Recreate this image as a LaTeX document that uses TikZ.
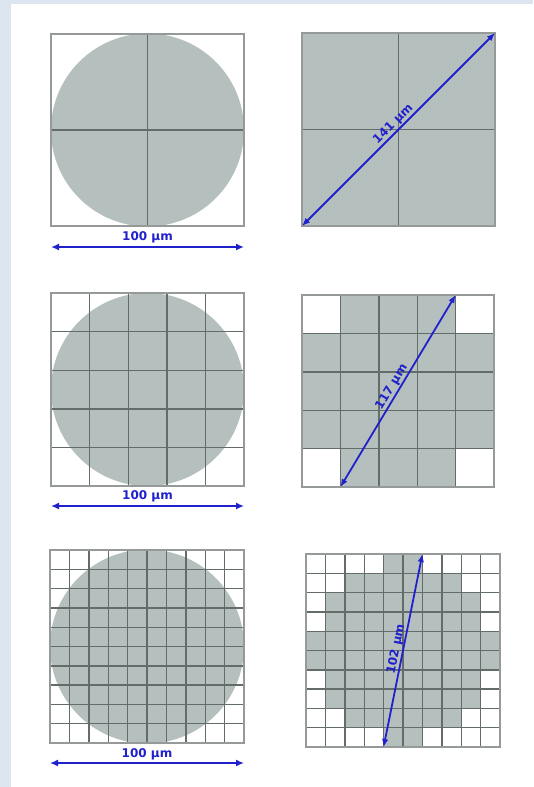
\documentclass[tikz,border=0pt]{standalone}
\usepackage{fontspec}
\setmainfont{DejaVu Sans}[BoldFont={DejaVu Sans Bold}]
\usetikzlibrary{arrows.meta}
\definecolor{bgblue}{HTML}{DDE6F0}
\definecolor{cellgray}{HTML}{B5C0BE}
\definecolor{gridline}{HTML}{646C69}
\definecolor{borderline}{HTML}{959A99}
\definecolor{arrowblue}{HTML}{2020CC}
\tikzset{
  gridln/.style={draw=gridline, line width=1.4pt},
  outer/.style={draw=borderline, line width=1.6pt},
  dimarrow/.style={draw=arrowblue, line width=2.1pt, {Latex[length=8pt,width=7pt]}-{Latex[length=8pt,width=7pt]}},
  diagarrow/.style={draw=arrowblue, line width=1.8pt, {Latex[length=8pt,width=6.5pt]}-{Latex[length=8pt,width=6.5pt]}},
  dimlabel/.style={text=arrowblue, inner sep=0pt, anchor=base, font=\bfseries\fontsize{12}{13}\selectfont}
}
\begin{document}
\begin{tikzpicture}[x=1pt,y=-1pt]
\useasboundingbox (0,0) rectangle (533,787);
\fill[bgblue] (0,0) rectangle (533,787);
\fill[white] (11,4) rectangle (533,787);

% ---------- Panel 1 ----------
\fill[cellgray] (147.5,130) circle[radius=96.5pt];
\draw[gridln] (147.5,34) -- (147.5,226);
\draw[gridln] (51,130) -- (244,130);
\draw[outer] (51,34) rectangle (244,226);
\coordinate (a1l) at (51,247);
\coordinate (a1r) at (244,247);
\draw[dimarrow] (a1l) -- (a1r);
\node[dimlabel] (t1) at (147.5,240) {100 µm};

% ---------- Panel 2 ----------
\fill[cellgray] (302,33) rectangle (495,226);
\draw[gridln] (398.5,33) -- (398.5,226);
\draw[gridln] (302,129.5) -- (495,129.5);
\draw[outer] (302,33) rectangle (495,226);
\coordinate (a2s) at (302,226);
\coordinate (a2e) at (495,33);
\draw[diagarrow] (a2s) -- (a2e);
\node[dimlabel, rotate=45] (t2) at (395.5,126.5) {141 µm};

% ---------- Panel 3 ----------
\fill[cellgray] (147.5,389.5) circle[radius=96.5pt];
\foreach \i in {1,...,4} {
  \draw[gridln] (51+\i*38.6,293) -- (51+\i*38.6,486);
  \draw[gridln] (51,293+\i*38.6) -- (244,293+\i*38.6);
}
\draw[outer] (51,293) rectangle (244,486);
\coordinate (a3l) at (51,506);
\coordinate (a3r) at (244,506);
\draw[dimarrow] (a3l) -- (a3r);
\node[dimlabel] (t3) at (147.5,499.5) {100 µm};

% ---------- Panel 4 ----------
\fill[cellgray] (302,295) rectangle (494,487);
\fill[white] (302,295) rectangle (340.4,333.4);
\fill[white] (455.6,295) rectangle (494,333.4);
\fill[white] (302,448.6) rectangle (340.4,487);
\fill[white] (455.6,448.6) rectangle (494,487);
\foreach \i in {1,...,4} {
  \draw[gridln] (302+\i*38.4,295) -- (302+\i*38.4,487);
  \draw[gridln] (302,295+\i*38.4) -- (494,295+\i*38.4);
}
\draw[outer] (302,295) rectangle (494,487);
\coordinate (a4s) at (340.4,487);
\coordinate (a4e) at (455.6,295);
\draw[diagarrow] (a4s) -- (a4e);
\node[dimlabel, rotate=58.9] (t4) at (394.4,388.8) {117 µm};

% ---------- Panel 5 ----------
\fill[cellgray] (147,646.5) circle[radius=97pt];
\foreach \i in {1,...,9} {
  \draw[gridln] (50+\i*19.4,550) -- (50+\i*19.4,743);
  \draw[gridln] (50,550+\i*19.3) -- (244,550+\i*19.3);
}
\draw[outer] (50,550) rectangle (244,743);
\coordinate (a5l) at (50,763);
\coordinate (a5r) at (244,763);
\draw[dimarrow] (a5l) -- (a5r);
\node[dimlabel] (t5) at (147,757) {100 µm};

% ---------- Panel 6 ----------
\foreach \r/\a/\b in {0/4/5,1/2/7,2/1/8,3/1/8,4/0/9,5/0/9,6/1/8,7/1/8,8/2/7,9/4/5} {
  \fill[cellgray] (306+\a*19.4,554+\r*19.3) rectangle (306+\b*19.4+19.4,554+\r*19.3+19.3);
}
\foreach \i in {1,...,9} {
  \draw[gridln] (306+\i*19.4,554) -- (306+\i*19.4,747);
  \draw[gridln] (306,554+\i*19.3) -- (500,554+\i*19.3);
}
\draw[outer] (306,554) rectangle (500,747);
\coordinate (a6s) at (383.6,747);
\coordinate (a6e) at (422.4,554);
\draw[diagarrow] (a6s) -- (a6e);
\node[dimlabel, rotate=78.6] (t6) at (399.4,649.7) {102 µm};
\end{tikzpicture}
\end{document}
